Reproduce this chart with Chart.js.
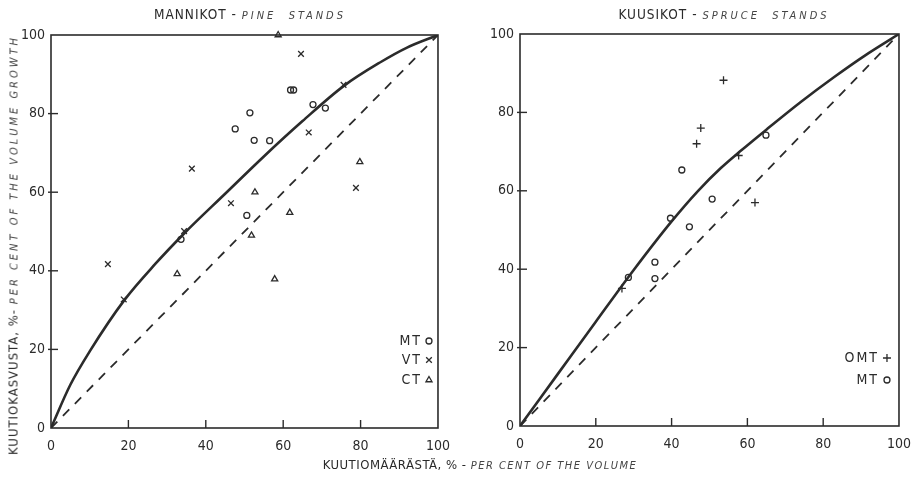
<!DOCTYPE html>
<html><head><meta charset="utf-8">
<script src="https://cdn.jsdelivr.net/npm/chart.js@4.4.1/dist/chart.umd.min.js"></script>
<style>
html,body{margin:0;padding:0;background:#fff;}
#wrap{position:relative;width:921px;height:478px;overflow:hidden;background:#fff;}
canvas{position:absolute;top:0;}
#c1{left:0;}
#c2{left:460px;}
.t{position:absolute;white-space:nowrap;color:#2a2a2a;font-family:'DejaVu Sans Condensed','Liberation Sans Narrow','DejaVu Sans',sans-serif;font-size:13.5px;letter-spacing:1px;}
.it{font-style:italic;color:#444;letter-spacing:3px;font-size:11px;}
</style></head><body>
<div id="wrap">
<canvas id="c1" width="460" height="478" style="width:460px;height:478px"></canvas>
<canvas id="c2" width="461" height="478" style="width:461px;height:478px"></canvas>
<div class="t" style="left:250px;top:6px;transform:translateX(-50%);">MANNIKOT - <span class="it">PINE&nbsp;&nbsp;STANDS</span></div>
<div class="t" style="left:724px;top:6px;transform:translateX(-50%);">KUUSIKOT - <span class="it">SPRUCE&nbsp;&nbsp;STANDS</span></div>
<div class="t" style="left:13px;top:245px;transform:translate(-50%,-50%) rotate(-90deg);font-size:13px;">KUUTIOKASVUSTA, %- <span class="it">PER CENT OF THE VOLUME GROWTH</span></div>
<div class="t" style="left:480px;top:457px;transform:translateX(-50%);letter-spacing:0.5px;font-size:13px;">KUUTIOMÄÄRÄSTÄ, % - <span class="it" style="letter-spacing:1.5px">PER CENT OF THE VOLUME</span></div>
</div>
<script>
// ---- tick values ----
const tickValues = [0, 20, 40, 60, 80, 100];

// ---- Pine stands (MANNIKOT) ----
const pineMT_x = [61.9, 62.7, 67.7, 70.9, 51.4, 47.6, 52.5, 56.5, 50.6, 33.6];
const pineMT_y = [86.0, 86.0, 82.3, 81.4, 80.2, 76.1, 73.2, 73.1, 54.1, 48.0];
const pineVT_x = [14.7, 18.8, 34.4, 36.4, 46.5, 64.6, 66.6, 75.6, 78.8];
const pineVT_y = [41.7, 32.7, 50.1, 66.0, 57.2, 95.2, 75.2, 87.3, 61.1];
const pineCT_x = [58.7, 79.8, 52.7, 61.7, 51.8, 32.6, 57.8];
const pineCT_y = [100.0, 67.7, 60.0, 54.8, 49.0, 39.2, 37.9];
const pineCurve_x = [0, 5, 10, 19, 27, 34.4, 45, 55, 65, 75.6, 85, 92, 100];
const pineCurve_y = [0, 11, 19.5, 32.6, 41.8, 49.5, 59.6, 69.1, 78.1, 87.0, 93.0, 96.8, 100];

// ---- Spruce stands (KUUSIKOT) ----
const spruceOMT_x = [53.7, 47.7, 46.6, 57.7, 62.0, 26.9];
const spruceOMT_y = [88.2, 76.0, 72.0, 69.0, 57.0, 35.1];
const spruceMT_x = [42.7, 64.9, 50.7, 39.7, 44.7, 35.6, 35.6, 28.6];
const spruceMT_y = [65.3, 74.2, 57.9, 53.0, 50.8, 41.8, 37.6, 37.9];
const spruceCurve_x = [0, 10, 20, 30, 40, 47, 53, 58, 65, 74, 83, 91, 100];
const spruceCurve_y = [0, 13.3, 26.6, 39.8, 52.2, 60.0, 65.8, 70.0, 75.6, 82.6, 89.1, 94.5, 100];

// ---- equality (dashed) line ----
const diag_x = [0, 100];
const diag_y = [0, 100];

const INK = '#2b2b2b';
const FONT = "'Liberation Sans Narrow','DejaVu Sans Condensed','DejaVu Sans',sans-serif";

const zip = (xs, ys) => xs.map((x, i) => ({x: x, y: ys[i]}));

function pts(label, xs, ys, style, r) {
  return {type: 'scatter', label: label, data: zip(xs, ys), showLine: false, clip: false,
    pointStyle: style, pointRadius: r, pointHoverRadius: r,
    pointBorderColor: INK, pointBackgroundColor: 'rgba(0,0,0,0)', pointBorderWidth: 1.3, order: 0};
}
function line(xs, ys, dashed) {
  return {type: 'line', data: zip(xs, ys), showLine: true, pointRadius: 0,
    borderColor: INK, borderWidth: dashed ? 1.8 : 2.6, borderDash: dashed ? [9, 8] : [],
    cubicInterpolationMode: dashed ? 'default' : 'monotone', fill: false, order: 1};
}

const framePlugin = {
  id: 'frame',
  afterDatasetsDraw(chart) {
    const {ctx, chartArea: a, scales} = chart;
    ctx.save();
    ctx.strokeStyle = INK; ctx.lineWidth = 1.6;
    ctx.strokeRect(a.left, a.top, a.right - a.left, a.bottom - a.top);
    ctx.lineWidth = 1.4;
    [20, 40, 60, 80].forEach(v => {
      const px = scales.x.getPixelForValue(v);
      ctx.beginPath(); ctx.moveTo(px, a.bottom); ctx.lineTo(px, a.bottom - 8); ctx.stroke();
      const py = scales.y.getPixelForValue(v);
      ctx.beginPath(); ctx.moveTo(a.left - 3, py); ctx.lineTo(a.left + 7, py); ctx.stroke();
    });
    // legend (text then symbol)
    const items = chart.options.plugins.frame.items;
    ctx.font = '14px ' + FONT;
    ctx.textAlign = 'right'; ctx.textBaseline = 'middle';
    try { ctx.letterSpacing = '2px'; } catch (e) {}
    items.forEach(it => {
      const y = a.bottom - it.dy;
      ctx.fillStyle = INK;
      ctx.fillText(it.label, a.right - it.tx, y);
      ctx.fillStyle = 'rgba(0,0,0,0)';
      ctx.strokeStyle = INK;
      ctx.lineWidth = 1.3;
      Chart.helpers.drawPoint(ctx, {pointStyle: it.style, radius: it.r, borderWidth: 1.3, rotation: 0},
        a.right - it.sx, y);
    });
    ctx.restore();
  }
};

function makeChart(id, datasets, pad, yw, xh, legendItems) {
  const tickFont = {family: FONT, size: 14};
  new Chart(document.getElementById(id), {
    data: {datasets: datasets},
    options: {
      responsive: false, animation: false,
      layout: {padding: pad},
      plugins: {legend: {display: false}, tooltip: {enabled: false}, frame: {items: legendItems}},
      scales: {
        x: {type: 'linear', min: 0, max: 100,
          afterBuildTicks: s => { s.ticks = tickValues.map(v => ({value: v})); },
          afterFit: s => { s.height = xh; },
          grid: {display: false, drawTicks: false},
          border: {display: false},
          ticks: {color: INK, font: tickFont, padding: 10, maxRotation: 0}},
        y: {type: 'linear', min: 0, max: 100,
          afterBuildTicks: s => { s.ticks = tickValues.map(v => ({value: v})); },
          afterFit: s => { s.width = yw; },
          grid: {display: false, drawTicks: false},
          border: {display: false},
          ticks: {color: INK, font: tickFont, padding: 6}}
      }
    },
    plugins: [framePlugin]
  });
}

makeChart('c1', [
  pts('MT', pineMT_x, pineMT_y, 'circle', 3),
  pts('VT', pineVT_x, pineVT_y, 'crossRot', 4),
  pts('CT', pineCT_x, pineCT_y, 'triangle', 3.5),
  line(pineCurve_x, pineCurve_y, false),
  line(diag_x, diag_y, true)
], {left: 0, top: 35, right: 20, bottom: 0}, 51, 50, [
  {label: 'MT', style: 'circle', r: 3, dy: 87, tx: 16, sx: 9},
  {label: 'VT', style: 'crossRot', r: 4, dy: 68, tx: 16, sx: 9},
  {label: 'CT', style: 'triangle', r: 3.5, dy: 48, tx: 16, sx: 9}
]);

makeChart('c2', [
  pts('OMT', spruceOMT_x, spruceOMT_y, 'cross', 4),
  pts('MT', spruceMT_x, spruceMT_y, 'circle', 3),
  line(spruceCurve_x, spruceCurve_y, false),
  line(diag_x, diag_y, true)
], {left: 0, top: 34, right: 11, bottom: 0}, 60, 52, [
  {label: 'OMT', style: 'cross', r: 4, dy: 68, tx: 20, sx: 12},
  {label: 'MT', style: 'circle', r: 3, dy: 46, tx: 20, sx: 12}
]);
</script>
</body></html>
